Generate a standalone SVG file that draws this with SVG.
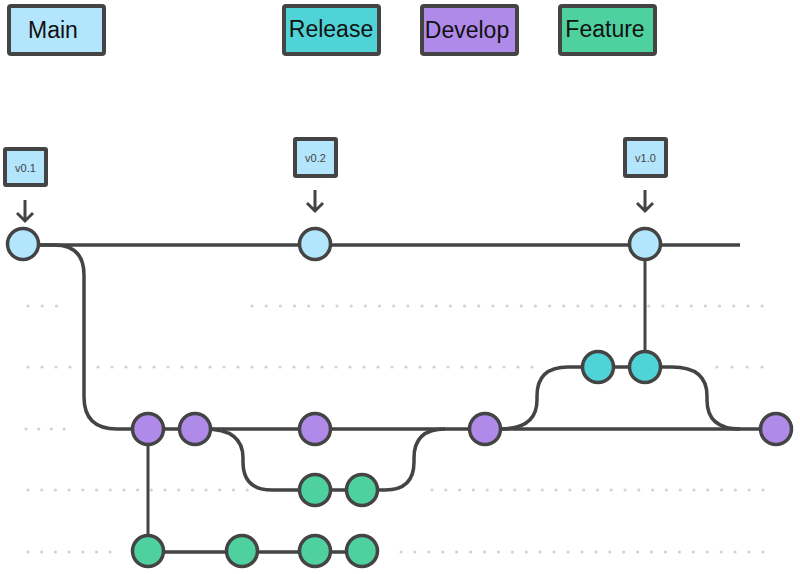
<svg xmlns="http://www.w3.org/2000/svg" width="800" height="574" viewBox="0 0 800 574">
  <style>
    .legend rect { stroke: #444; stroke-width: 4; }
    .legend text { font-family: "Liberation Sans", Arial, sans-serif; font-size: 23px; fill: #111; text-anchor: middle; }
    .tag rect { fill: #b3e5fc; stroke: #444; stroke-width: 4; }
    .tag text { font-family: "Liberation Sans", Arial, sans-serif; font-size: 11px; fill: #444; text-anchor: middle; }
    .tag path { fill: none; stroke: #444; stroke-width: 3; }
    .dots line { stroke: #d2d2d2; stroke-width: 3.2; stroke-linecap: round; }
    .wire { fill: none; stroke: #444; stroke-width: 3.5; }
    .thin { fill: none; stroke: #444; stroke-width: 3; }
    .commit circle { stroke: #444; stroke-width: 3.5; }
    .main { fill: #b3e5fc; }
    .release { fill: #4fd3d6; }
    .develop { fill: #b08ae8; }
    .feature { fill: #4ed19f; }
  </style>

  <!-- legend -->
  <g id="legend-main" class="legend">
    <rect class="main" x="9" y="6" width="95" height="48" rx="2"/>
    <text x="53" y="38">Main</text>
  </g>
  <g id="legend-release" class="legend">
    <rect class="release" x="284" y="6" width="95" height="48" rx="2"/>
    <text x="331" y="37">Release</text>
  </g>
  <g id="legend-develop" class="legend">
    <rect class="develop" x="422" y="6" width="95" height="48" rx="2"/>
    <text x="467" y="38">Develop</text>
  </g>
  <g id="legend-feature" class="legend">
    <rect class="feature" x="560" y="6" width="95" height="48" rx="2"/>
    <text x="605" y="37">Feature</text>
  </g>

  <!-- dotted lane guides -->
  <g id="lanes" class="dots">
    <line x1="28" y1="306" x2="57" y2="306" stroke-dasharray="0 14.2"/>
    <line x1="252" y1="306" x2="763" y2="306" stroke-dasharray="0 14.17"/>
    <line x1="28" y1="367" x2="533" y2="367" stroke-dasharray="0 14"/>
    <line x1="717" y1="367" x2="763" y2="367" stroke-dasharray="0 15"/>
    <line x1="26" y1="429" x2="65" y2="429" stroke-dasharray="0 12.7"/>
    <line x1="28" y1="490" x2="248" y2="490" stroke-dasharray="0 13.7"/>
    <line x1="432" y1="490" x2="764" y2="490" stroke-dasharray="0 13.79"/>
    <line x1="28" y1="552" x2="111" y2="552" stroke-dasharray="0 13.7"/>
    <line x1="401" y1="552" x2="764" y2="552" stroke-dasharray="0 13.92"/>
  </g>

  <!-- branch connectors -->
  <g id="connectors">
    <path class="wire" d="M23,245 H740"/>
    <path class="wire" d="M23,245 H54 Q84,245 84,275 V397 Q84,429 117,429 H775"/>
    <path class="wire" d="M205,429 Q243,429 243,458 V462 Q243,490 272,490 H385 Q414,490 414,462 V458 Q414,429 445,429"/>
    <path class="wire" d="M500,429 Q537,429 537,400 V396 Q537,367 568,367 H672 Q707,367 707,396 V400 Q707,429 740,429"/>
    <path class="thin" d="M645,245 V367"/>
    <path class="thin" d="M148,429 V552"/>
    <path class="wire" d="M148,552 H362"/>
  </g>

  <!-- version tags -->
  <g id="tag-v01" class="tag">
    <rect x="5" y="149" width="41" height="36" rx="1"/>
    <text x="25.5" y="172">v0.1</text>
    <path d="M25,200 V221 M17,213 L25,221 L33,213"/>
  </g>
  <g id="tag-v02" class="tag">
    <rect x="295" y="139" width="41" height="37" rx="1"/>
    <text x="315.5" y="162">v0.2</text>
    <path d="M315,190 V211 M307,203 L315,211 L323,203"/>
  </g>
  <g id="tag-v10" class="tag">
    <rect x="625" y="139" width="41" height="37" rx="1"/>
    <text x="645.5" y="162">v1.0</text>
    <path d="M645,190 V211 M637,203 L645,211 L653,203"/>
  </g>

  <!-- commits: main -->
  <g id="commit-main-1" class="commit"><circle class="main" cx="23" cy="244" r="15.5"/></g>
  <g id="commit-main-2" class="commit"><circle class="main" cx="315" cy="244" r="15.5"/></g>
  <g id="commit-main-3" class="commit"><circle class="main" cx="645" cy="244" r="15.5"/></g>

  <!-- commits: release -->
  <g id="commit-release-1" class="commit"><circle class="release" cx="598" cy="367" r="15.5"/></g>
  <g id="commit-release-2" class="commit"><circle class="release" cx="645" cy="367" r="15.5"/></g>

  <!-- commits: develop -->
  <g id="commit-develop-1" class="commit"><circle class="develop" cx="148" cy="429" r="15.5"/></g>
  <g id="commit-develop-2" class="commit"><circle class="develop" cx="195" cy="429" r="15.5"/></g>
  <g id="commit-develop-3" class="commit"><circle class="develop" cx="315" cy="429" r="15.5"/></g>
  <g id="commit-develop-4" class="commit"><circle class="develop" cx="485" cy="429" r="15.5"/></g>
  <g id="commit-develop-5" class="commit"><circle class="develop" cx="776" cy="429" r="15.5"/></g>

  <!-- commits: feature branches -->
  <g id="commit-feature-a1" class="commit"><circle class="feature" cx="315" cy="490" r="15.5"/></g>
  <g id="commit-feature-a2" class="commit"><circle class="feature" cx="362" cy="490" r="15.5"/></g>
  <g id="commit-feature-b1" class="commit"><circle class="feature" cx="148" cy="551" r="15.5"/></g>
  <g id="commit-feature-b2" class="commit"><circle class="feature" cx="242" cy="551" r="15.5"/></g>
  <g id="commit-feature-b3" class="commit"><circle class="feature" cx="315" cy="551" r="15.5"/></g>
  <g id="commit-feature-b4" class="commit"><circle class="feature" cx="362" cy="551" r="15.5"/></g>
</svg>
